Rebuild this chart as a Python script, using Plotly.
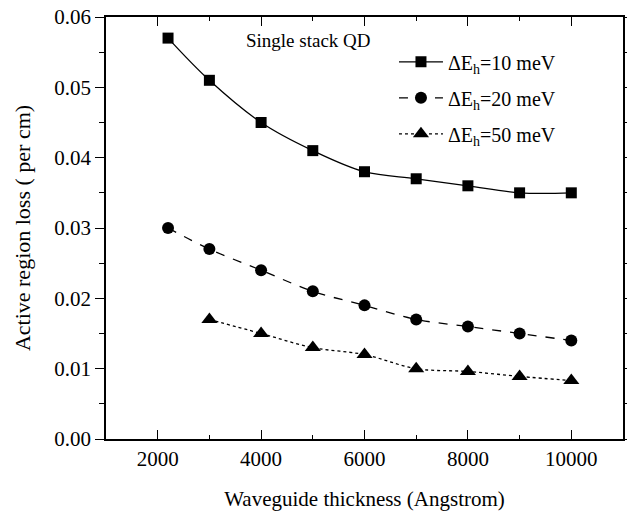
import plotly.graph_objects as go

thickness = [2200, 3000, 4000, 5000, 6000, 7000, 8000, 9000, 10000]
loss_10 = [0.057, 0.051, 0.045, 0.041, 0.038, 0.037, 0.036, 0.035, 0.035]
loss_20 = [0.030, 0.027, 0.024, 0.021, 0.019, 0.017, 0.016, 0.015, 0.014]
thickness_50 = [3000, 4000, 5000, 6000, 7000, 8000, 9000, 10000]
loss_50 = [0.017, 0.015, 0.013, 0.012, 0.010, 0.0096, 0.0089, 0.0083]
x_ticks = [2000, 4000, 6000, 8000, 10000]
y_ticks = [0, 0.01, 0.02, 0.03, 0.04, 0.05, 0.06]

FONT = "Liberation Serif, Times New Roman, serif"

fig = go.Figure()
fig.add_trace(go.Scatter(x=thickness, y=loss_10, mode="lines+markers",
                         name="ΔE<sub>h</sub>=10 meV", legendgroup="a",
                         line=dict(color="black", width=1.3, shape="spline", dash="solid"),
                         marker=dict(symbol="square", size=11, color="black")))
fig.add_trace(go.Scatter(x=thickness, y=loss_20, mode="lines+markers",
                         name="ΔE<sub>h</sub>=20 meV", legendgroup="b",
                         line=dict(color="black", width=1.3, shape="spline", dash="dash"),
                         marker=dict(symbol="circle", size=12, color="black")))
fig.add_trace(go.Scatter(x=thickness_50, y=loss_50, mode="lines+markers",
                         name="ΔE<sub>h</sub>=50 meV", legendgroup="c",
                         line=dict(color="black", width=1.3, shape="spline", dash="dot"),
                         marker=dict(symbol="triangle-up", size=14, color="black")))

fig.add_annotation(text="Single stack QD", x=0.392, y=0.945, xref="paper", yref="paper",
                   xanchor="center", yanchor="middle", showarrow=False,
                   font=dict(family=FONT, size=19, color="black"))

axis_common = dict(showline=True, linecolor="black", linewidth=1.5, mirror="ticks",
                   showgrid=False, zeroline=False, tickcolor="black", automargin=False,
                   tickfont=dict(family=FONT, size=21, color="black"))

fig.update_xaxes(range=[1000, 11000], tickvals=x_ticks, ticktext=[str(v) for v in x_ticks],
                 ticks="inside", ticklen=9, tickwidth=1.3,
                 minor=dict(ticks="inside", ticklen=4, dtick=1000, tick0=1000, tickcolor="black"),
                 title=dict(text="Waveguide thickness (Angstrom)", font=dict(family=FONT, size=21, color="black"),
                            standoff=21),
                 **axis_common)
fig.update_yaxes(range=[0, 0.06], tickvals=y_ticks, ticktext=[f"{v:.2f}" for v in y_ticks],
                 ticks="outside", ticklen=9, tickwidth=1.3,
                 minor=dict(ticks="outside", ticklen=5, dtick=0.005, tick0=0, tickcolor="black"),
                 title=dict(text="Active region loss ( per cm)", font=dict(family=FONT, size=22, color="black"),
                            standoff=18),
                 **axis_common)

fig.update_layout(width=627, height=513, plot_bgcolor="white", paper_bgcolor="white",
                  margin=dict(l=106, r=4, t=17, b=74),
                  font=dict(family=FONT, color="black"),
                  legend=dict(x=0.557, y=0.94, xanchor="left", yanchor="top", itemwidth=44,
                              tracegroupgap=7,
                              bgcolor="rgba(0,0,0,0)", font=dict(family=FONT, size=20, color="black")),
                  )

fig.write_html("out.html")
